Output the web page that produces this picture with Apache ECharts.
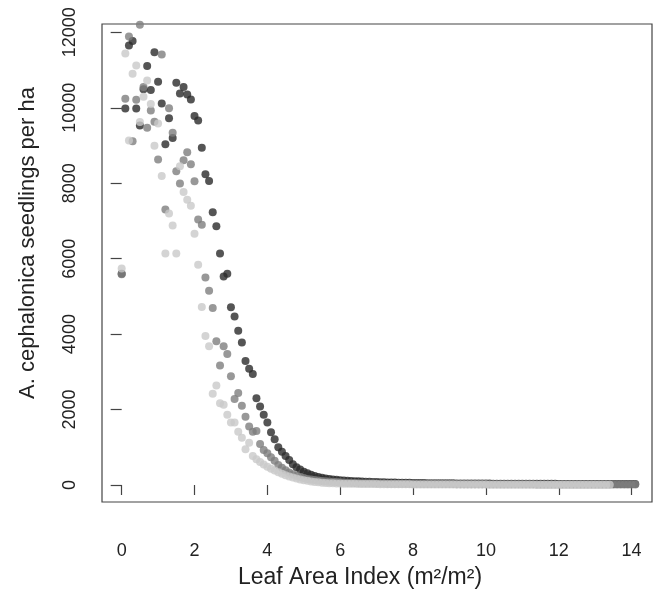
<!DOCTYPE html>
<html>
<head>
<meta charset="utf-8">
<script src="https://cdn.jsdelivr.net/npm/echarts@6/dist/echarts.min.js"></script>
<style>html,body{margin:0;padding:0;background:#fff}#c{width:657px;height:590px}</style>
</head>
<body>
<div id="c"></div>
<script>
// x positions: Leaf Area Index grid, step 0.1
var xStep = 0.1;
var xTicks = [0, 2, 4, 6, 8, 10, 12, 14];
var yTicks = [0, 2000, 4000, 6000, 8000, 10000, 12000];
var xTitle = 'Leaf Area Index (m²/m²)';
var yTitle = 'A. cephalonica seedlings per ha';

// Dark series (x = 0 .. 14.1)
var darkVals = [
  5600, 9980, 11650, 11770, 9980, 9530, 10490, 11110, 10470, 11470,
  10690, 10110, 9030, 9720, 9200, 10660, 10380, 10550, 10350, 10220,
  9780, 9660, 8940, 8240, 8060, 7230, 6860, 6140, 5530, 5600,
  4710, 4470, 4090, 3780, 3290, 3080, 2940, 2300, 2080, 1860,
  1660, 1400, 1210, 1000, 885, 770, 665, 550, 470, 410,
  355, 310, 272, 240, 214, 192,
  175, 160, 148, 138, 129, 121, 114, 108, 102, 97,
  92, 88, 84, 80, 77, 74, 71, 68, 66, 64,
  62, 60, 58, 57, 55, 54, 53, 51, 50, 49,
  48, 47, 46, 45, 45, 44, 43, 42, 42, 41,
  40, 40, 39, 39, 38, 38, 37, 37, 36, 36,
  35, 35, 34, 34, 34, 33, 33, 33, 32, 32,
  32, 31, 31, 31, 30, 30, 30, 30, 29, 29,
  29, 29, 28, 28, 28, 28, 27, 27, 27, 27,
  26, 26, 26, 26, 25, 25
];

// Mid-grey series (x = 0 .. 14.1)
var midVals = [
  5590, 10240, 11890, 9110, 10210, 12200, 10550, 9470, 9930, 9630,
  8630, 11410, 7300, 9990, 9340, 8320, 7990, 8610, 8820, 8500,
  8050, 7040, 6900, 5500, 5150, 4690, 3810, 3170, 3680, 3470,
  2880, 2280, 2440, 2100, 1810, 1550, 1410, 1430, 1090, 930,
  840, 735, 645, 531, 455, 390, 335, 285, 245, 212,
  185, 162, 145, 130, 118, 108,
  99, 91, 84, 78, 72, 67, 63, 59, 56, 53,
  50, 48, 46, 44, 42, 40, 39, 37, 36, 35,
  34, 33, 32, 31, 30, 29, 29, 28, 27, 27,
  26, 26, 25, 25, 24, 24, 23, 23, 23, 22,
  22, 22, 21, 21, 21, 20, 20, 20, 20, 19,
  19, 19, 19, 18, 18, 18, 18, 18, 17, 17,
  17, 17, 17, 16, 16, 16, 16, 16, 16, 15,
  15, 15, 15, 15, 15, 15, 14, 14, 14, 14,
  14, 14, 14, 14, 13, 13
];

// Light-grey series (x = 0 .. 13.4)
var lightVals = [
  5740, 11440, 9130, 10900, 11120, 9620, 10290, 10720, 10100, 8990,
  9580, 8190, 6140, 7200, 6880, 6140, 8450, 7770, 7560, 7400,
  6660, 5840, 4720, 3950, 3680, 2420, 2640, 2170, 2130, 1860,
  1660, 1660, 1410, 1250, 950, 1120, 770, 680, 610, 545,
  485, 430, 385, 340, 300, 262, 228, 198, 172, 148,
  128, 110, 95, 82, 71, 62,
  54, 49, 45, 42, 39, 37, 35, 33, 31, 30,
  28, 27, 26, 25, 24, 23, 22, 21, 21, 20,
  19, 19, 18, 18, 17, 17, 16, 16, 15, 15,
  15, 14, 14, 14, 13, 13, 13, 12, 12, 12,
  12, 11, 11, 11, 11, 10, 10, 10, 10, 10,
  9, 9, 9, 9, 9, 9, 8, 8, 8, 8,
  8, 8, 8, 7, 7, 7, 7, 7, 7, 7,
  6, 6, 6, 6, 6, 6, 6, 6, 6
];

function pairs(vals) {
  return vals.map(function (v, i) { return [Math.round(i * xStep * 10) / 10, v]; });
}

var FONT = 'Liberation Sans, Arial, sans-serif';
var chart = echarts.init(document.getElementById('c'), null, { renderer: 'canvas' });
chart.setOption({
  animation: false,
  backgroundColor: '#fff',
  grid: { left: 102, right: 5, top: 24, bottom: 88, show: true, borderColor: '#444', borderWidth: 1.2, backgroundColor: 'transparent' },
  xAxis: {
    type: 'value', min: -0.54, max: 14.56,
    splitLine: { show: false },
    axisLine: { show: false },
    axisTick: { show: true, length: 10, inside: false, customValues: xTicks, lineStyle: { color: '#444', width: 1.2 } },
    axisLabel: { customValues: xTicks, fontSize: 18, margin: 40, color: '#222', fontFamily: FONT }
  },
  yAxis: {
    type: 'value', min: -450, max: 12220,
    splitLine: { show: false },
    axisLine: { show: false },
    axisTick: { show: true, length: 11, customValues: yTicks, lineStyle: { color: '#444', width: 1.2 } },
    axisLabel: { customValues: yTicks, rotate: 90, fontSize: 18, margin: 23, color: '#222', fontFamily: FONT,
      formatter: function (v) { return String(v); } }
  },
  graphic: [
    { type: 'text', x: 360, y: 578, silent: true,
      style: { text: xTitle, font: '23px ' + FONT, fill: '#222', align: 'center', verticalAlign: 'middle' } },
    { type: 'text', x: 28, y: 243, rotation: Math.PI / 2, silent: true,
      style: { text: yTitle, font: '22px ' + FONT, fill: '#222', align: 'center', verticalAlign: 'middle' } }
  ],
  series: [
    { type: 'scatter', data: pairs(darkVals), symbolSize: 8, clip: false, itemStyle: { color: '#2b2b2b' }, silent: true },
    { type: 'scatter', data: pairs(midVals), symbolSize: 8, clip: false, itemStyle: { color: '#7e7e7e' }, silent: true },
    { type: 'scatter', data: pairs(lightVals), symbolSize: 8, clip: false, itemStyle: { color: '#c9c9c9' }, silent: true }
  ]
});
</script>
</body>
</html>
